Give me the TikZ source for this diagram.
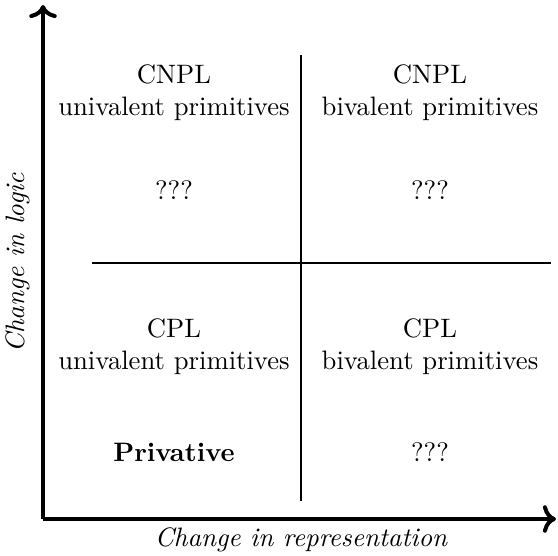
\documentclass[tikz,border=0pt]{standalone}
\usepackage{amsmath,amssymb}
\usepackage{tikz}
\usetikzlibrary{positioning,arrows.meta}

\begin{document}
\begin{tikzpicture}[
x=0.375pt, y=-0.375pt,
axis/.style={->, line width=1.5pt},
divider/.style={line width=1.1pt},
quad/.style={align=center, inner sep=1pt},
axislabel/.style={font=\itshape, inner sep=1pt}
]
\useasboundingbox (0,0) rectangle (558,556);
% axes
\coordinate (origin) at (43,519);
\coordinate (ytop) at (43,5);
\coordinate (xend) at (556,519);
\draw[axis] (origin) -- (ytop);
\draw[axis] (origin) -- (xend);
\node[axislabel, rotate=90] (ylab) at (18,263) {Change in logic};
\node[axislabel] (xlab) at (301,540) {Change in representation};
% quadrant dividers
\coordinate (vtop) at (301,55);
\coordinate (vbot) at (301,501);
\coordinate (hleft) at (92,263);
\coordinate (hright) at (551,263);
\draw[divider] (vtop) -- (vbot);
\draw[divider] (hleft) -- (hright);
% quadrants
\node[quad] (tl) at (174,93) {CNPL\\univalent primitives};
\node[quad] (tr) at (430,93) {CNPL\\bivalent primitives};
\node[quad] (bl) at (174,347) {CPL\\univalent primitives};
\node[quad] (br) at (430,347) {CPL\\bivalent primitives};
\node[quad] (tlq) at (174,190) {???};
\node[quad] (trq) at (tlq -| tr) {???};
\node[quad, font=\bfseries] (blq) at (174,452) {Privative};
\node[quad] (brq) at (blq -| br) {???};
\end{tikzpicture}
\end{document}
